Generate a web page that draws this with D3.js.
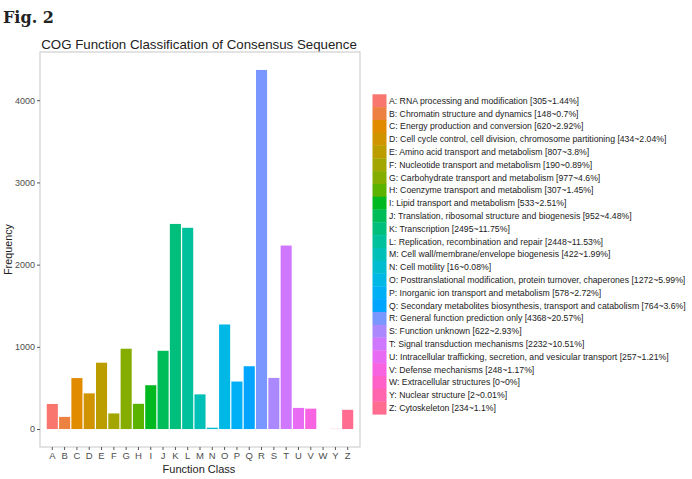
<!DOCTYPE html>
<html>
<head>
<meta charset="utf-8">
<script src="https://cdn.jsdelivr.net/npm/d3@7"></script>
<style>
  html, body { margin: 0; padding: 0; background: #fff; }
  svg { display: block; }
  text { font-family: "Liberation Sans", Arial, sans-serif; }
</style>
</head>
<body>
<svg id="chart" width="692" height="479"></svg>
<script>
// ---- data ----
const codes = ["A","B","C","D","E","F","G","H","I","J","K","L","M","N","O","P","Q","R","S","T","U","V","W","Y","Z"];
const counts = [305,148,620,434,807,190,977,307,533,952,2495,2448,422,16,1272,578,764,4368,622,2232,257,248,0,2,234];
const percents = ["1.44%","0.7%","2.92%","2.04%","3.8%","0.89%","4.6%","1.45%","2.51%","4.48%","11.75%","11.53%","1.99%","0.08%","5.99%","2.72%","3.6%","20.57%","2.93%","10.51%","1.21%","1.17%","0%","0.01%","1.1%"];
const descriptions = [
  "RNA processing and modification",
  "Chromatin structure and dynamics",
  "Energy production and conversion",
  "Cell cycle control, cell division, chromosome partitioning",
  "Amino acid transport and metabolism",
  "Nucleotide transport and metabolism",
  "Carbohydrate transport and metabolism",
  "Coenzyme transport and metabolism",
  "Lipid transport and metabolism",
  "Translation, ribosomal structure and biogenesis",
  "Transcription",
  "Replication, recombination and repair",
  "Cell wall/membrane/envelope biogenesis",
  "Cell motility",
  "Posttranslational modification, protein turnover, chaperones",
  "Inorganic ion transport and metabolism",
  "Secondary metabolites biosynthesis, transport and catabolism",
  "General function prediction only",
  "Function unknown",
  "Signal transduction mechanisms",
  "Intracellular trafficking, secretion, and vesicular transport",
  "Defense mechanisms",
  "Extracellular structures",
  "Nuclear structure",
  "Cytoskeleton"
];
const yTicks = [0, 1000, 2000, 3000, 4000];

const data = codes.map((c, i) => ({
  code: c, count: counts[i],
  label: `${c}: ${descriptions[i]} [${counts[i]}~${percents[i]}]`
}));

// ggplot2-style hue palette (polar LUV, as R's hcl())
function hclR(h, c, l) {
  const WHITE_Y = 100, WHITE_u = 0.1978398, WHITE_v = 0.4683363;
  const hr = h * Math.PI / 180;
  const U = c * Math.cos(hr), V = c * Math.sin(hr);
  let X, Y, Z;
  if (l <= 0 && U === 0 && V === 0) { X = Y = Z = 0; }
  else {
    Y = WHITE_Y * (l > 7.999592 ? Math.pow((l + 16) / 116, 3) : l / 903.3);
    const u = U / (13 * l) + WHITE_u;
    const v = V / (13 * l) + WHITE_v;
    X = 9.0 * Y * u / (4 * v);
    Z = -X / 3 - 5 * Y + 3 * Y / v;
  }
  const g = t => t > 0.00304 ? 1.055 * Math.pow(t, 1 / 2.4) - 0.055 : 12.92 * t;
  const cl = t => Math.max(0, Math.min(1, t));
  const r = cl(g((3.240479 * X - 1.537150 * Y - 0.498535 * Z) / WHITE_Y));
  const gg = cl(g((-0.969256 * X + 1.875992 * Y + 0.041556 * Z) / WHITE_Y));
  const b = cl(g((0.055648 * X - 0.204043 * Y + 1.057311 * Z) / WHITE_Y));
  return d3.rgb(Math.round(r * 255), Math.round(gg * 255), Math.round(b * 255)).formatHex();
}
const n = codes.length;
const hues = d3.range(n).map(i => 15 + i * 360 / n);
const palette = hues.map(h => hclR(h, 100, 65));
const color = d3.scaleOrdinal().domain(codes).range(palette);

// ---- layout ----
const svg = d3.select("#chart");
const panel = { left: 40, right: 360, top: 52, bottom: 447 };

const x = d3.scaleBand().domain(codes)
  .range([panel.left, panel.right])
  .paddingInner(0.1).paddingOuter(0.55);

const maxV = d3.max(counts);
const y = d3.scaleLinear()
  .domain([-maxV * 0.05, maxV * 1.05])
  .range([panel.bottom, panel.top]);

// Fig label
svg.append("text").attr("x", 3).attr("y", 23)
  .style("font-family", "'DejaVu Serif', 'Liberation Serif', serif")
  .style("font-weight", "bold").style("font-size", "16px").attr("fill", "#222")
  .text("Fig. 2");

// Title
svg.append("text").attr("x", (panel.left + panel.right) / 2 - 1).attr("y", 49)
  .attr("text-anchor", "middle").style("font-size", "13.3px").attr("fill", "#222")
  .text("COG Function Classification of Consensus Sequence");

// Panel border
svg.append("rect")
  .attr("x", panel.left).attr("y", panel.top)
  .attr("width", panel.right - panel.left).attr("height", panel.bottom - panel.top)
  .attr("fill", "#fff").attr("stroke", "#d0d0d0").attr("stroke-width", 1.2);

// Bars
svg.append("g").selectAll("rect").data(data).join("rect")
  .attr("x", d => x(d.code))
  .attr("width", x.bandwidth())
  .attr("y", d => Math.min(y(d.count), y(0)))
  .attr("height", d => Math.abs(y(0) - y(d.count)))
  .attr("fill", d => color(d.code));

// Y axis
const yAxis = svg.append("g").attr("transform", `translate(${panel.left},0)`)
  .call(d3.axisLeft(y).tickValues(yTicks).tickSize(3).tickPadding(2).tickFormat(d3.format("d")));
yAxis.select(".domain").remove();
yAxis.selectAll(".tick line").attr("stroke", "#555");
yAxis.selectAll(".tick text").attr("fill", "#4d4d4d").style("font-size", "9px")
  .style("font-family", "'Liberation Sans', Arial, sans-serif");

// X axis
const xAxis = svg.append("g").attr("transform", `translate(0,${panel.bottom})`)
  .call(d3.axisBottom(x).tickSize(3).tickPadding(2));
xAxis.select(".domain").remove();
xAxis.selectAll(".tick line").attr("stroke", "#555");
xAxis.selectAll(".tick text").attr("fill", "#4d4d4d").style("font-size", "9.5px")
  .style("font-family", "'Liberation Sans', Arial, sans-serif");

// Axis titles
svg.append("text").attr("x", (panel.left + panel.right) / 2 - 1).attr("y", 473)
  .attr("text-anchor", "middle").style("font-size", "11px").attr("fill", "#222")
  .text("Function Class");
svg.append("text")
  .attr("transform", `translate(12,${(panel.top + panel.bottom) / 2}) rotate(-90)`)
  .attr("text-anchor", "middle").style("font-size", "10.8px").attr("fill", "#222")
  .text("Frequency");

// Legend
const legTop = 94.3, keyH = 12.8, keyX = 372.5, keyW = 14;
const leg = svg.append("g");
leg.selectAll("rect").data(data).join("rect")
  .attr("x", keyX).attr("y", (d, i) => legTop + i * keyH)
  .attr("width", keyW).attr("height", keyH + 0.3)
  .attr("fill", d => color(d.code));
leg.selectAll("text").data(data).join("text")
  .attr("x", keyX + keyW + 2.5)
  .attr("y", (d, i) => legTop + i * keyH + keyH / 2)
  .attr("dy", "0.35em")
  .style("font-size", "8.7px").attr("fill", "#222")
  .text(d => d.label);
</script>
</body>
</html>
